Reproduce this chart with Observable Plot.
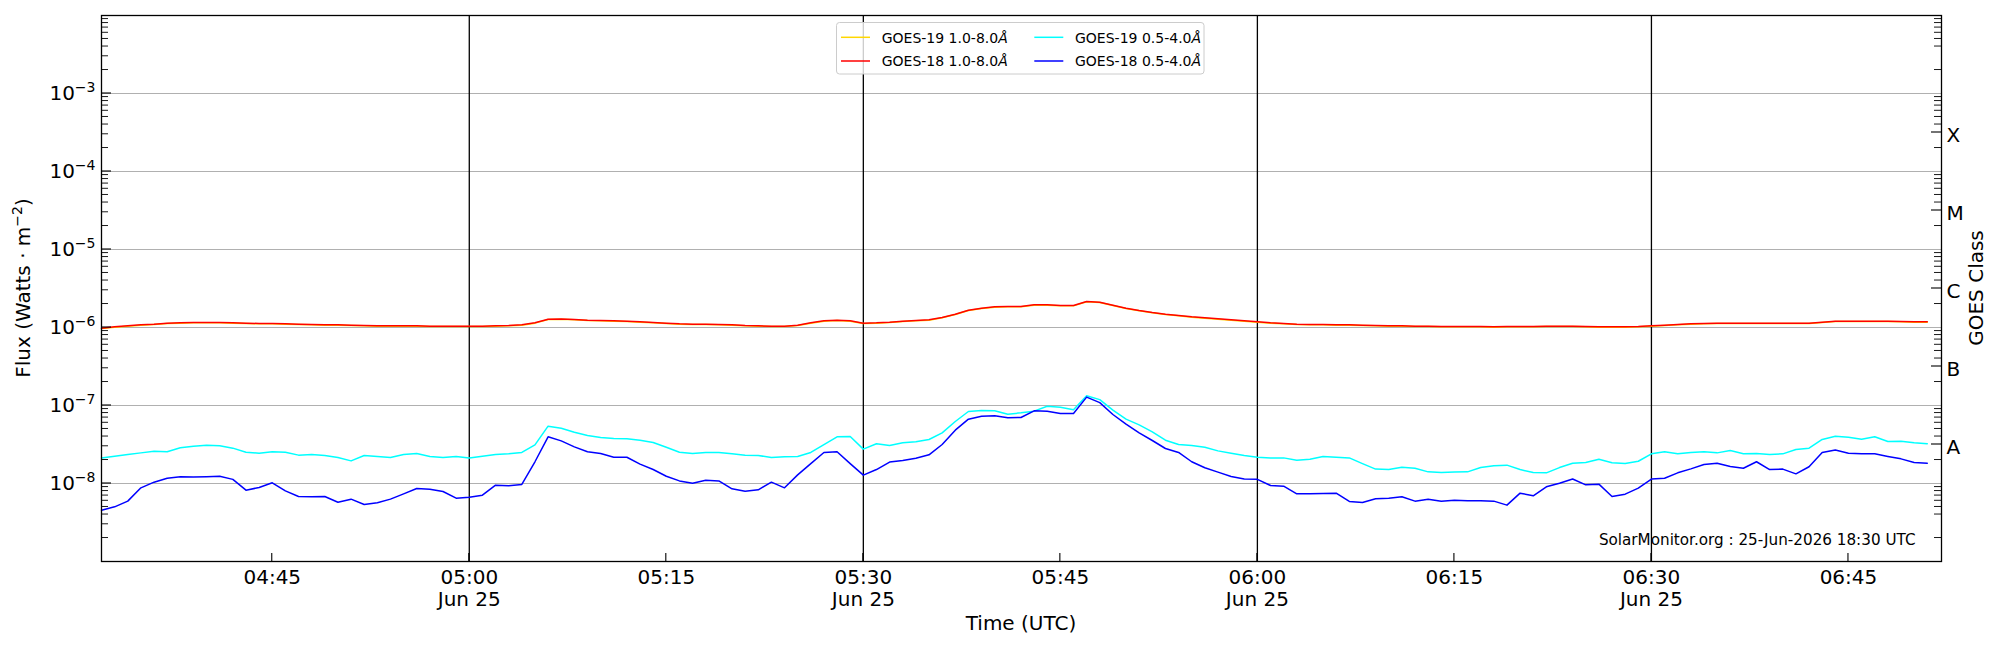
<!DOCTYPE html>
<html>
<head>
<meta charset="utf-8">
<script src="https://cdn.jsdelivr.net/npm/d3@7"></script>
<script src="https://cdn.jsdelivr.net/npm/@observablehq/plot@0.6"></script>
<style>
html, body { margin: 0; padding: 0; background: #fff; }
#chart { width: 2000px; height: 650px; }
</style>
</head>
<body>
<div id="chart"></div>
<script>
// ---- time base (1-minute cadence samples) ----
const startTime = "2026-06-25T04:32:00Z";
const cadenceSeconds = 60;
const xDomain = ["2026-06-25T04:32:00Z", "2026-06-25T06:52:05Z"];

// ---- series values ----
// 1.0-8.0 Å channels, in units of 1e-6 W m^-2
const unitLong = 1e-6;
const goes19Long = [0.970,1.010,1.040,1.071,1.093,1.125,1.137,1.148,1.148,1.148,1.137,1.125,1.114,1.114,1.103,1.093,1.082,1.071,1.071,1.061,1.050,1.040,1.040,1.040,1.040,1.030,1.030,1.030,1.030,1.030,1.040,1.050,1.071,1.137,1.266,1.272,1.254,1.229,1.217,1.206,1.194,1.170,1.148,1.125,1.103,1.093,1.093,1.082,1.071,1.050,1.040,1.030,1.030,1.061,1.137,1.206,1.229,1.206,1.125,1.137,1.159,1.194,1.217,1.242,1.330,1.468,1.651,1.752,1.822,1.840,1.840,1.932,1.932,1.895,1.895,2.134,2.092,1.914,1.752,1.635,1.542,1.468,1.411,1.356,1.317,1.278,1.242,1.206,1.170,1.137,1.114,1.093,1.082,1.082,1.071,1.071,1.061,1.050,1.040,1.040,1.030,1.030,1.020,1.020,1.020,1.020,1.010,1.020,1.020,1.020,1.030,1.030,1.030,1.020,1.010,1.010,1.010,1.020,1.040,1.061,1.082,1.103,1.114,1.125,1.125,1.125,1.125,1.125,1.125,1.125,1.125,1.159,1.194,1.194,1.194,1.194,1.194,1.182,1.170,1.170];
const goes18Long = [0.980,1.020,1.050,1.082,1.103,1.137,1.148,1.159,1.159,1.159,1.148,1.137,1.125,1.125,1.114,1.103,1.093,1.082,1.082,1.071,1.061,1.050,1.050,1.050,1.050,1.040,1.040,1.040,1.040,1.040,1.050,1.061,1.082,1.148,1.279,1.285,1.266,1.242,1.229,1.217,1.206,1.182,1.159,1.137,1.114,1.103,1.103,1.093,1.082,1.061,1.050,1.040,1.040,1.071,1.148,1.217,1.242,1.217,1.137,1.148,1.170,1.206,1.229,1.254,1.343,1.482,1.668,1.769,1.840,1.858,1.858,1.951,1.951,1.914,1.914,2.155,2.113,1.933,1.769,1.651,1.557,1.482,1.425,1.370,1.330,1.291,1.254,1.217,1.182,1.148,1.125,1.103,1.093,1.093,1.082,1.082,1.071,1.061,1.050,1.050,1.040,1.040,1.030,1.030,1.030,1.030,1.020,1.030,1.030,1.030,1.040,1.040,1.040,1.030,1.020,1.020,1.020,1.030,1.050,1.071,1.093,1.114,1.125,1.137,1.137,1.137,1.137,1.137,1.137,1.137,1.137,1.170,1.206,1.206,1.206,1.206,1.206,1.194,1.182,1.182];
// 0.5-4.0 Å channels, in units of 1e-8 W m^-2
const unitShort = 1e-8;
const goes19Short = [2.13,2.24,2.35,2.47,2.60,2.55,2.87,3.01,3.10,3.04,2.84,2.52,2.45,2.55,2.52,2.31,2.35,2.29,2.15,1.95,2.29,2.22,2.15,2.35,2.42,2.22,2.15,2.22,2.13,2.24,2.35,2.40,2.50,3.13,5.43,5.12,4.55,4.12,3.89,3.78,3.74,3.59,3.36,2.92,2.52,2.42,2.50,2.50,2.40,2.31,2.29,2.15,2.20,2.22,2.50,3.16,3.97,4.01,2.76,3.23,3.07,3.32,3.42,3.67,4.46,6.24,8.38,8.63,8.54,7.74,8.05,8.46,9.80,9.52,8.80,13.3,11.9,8.71,6.68,5.65,4.60,3.59,3.16,3.07,2.92,2.62,2.45,2.29,2.17,2.13,2.13,1.99,2.05,2.22,2.17,2.13,1.80,1.53,1.51,1.62,1.57,1.41,1.38,1.40,1.41,1.60,1.69,1.72,1.51,1.38,1.37,1.60,1.82,1.86,2.05,1.84,1.80,1.93,2.40,2.55,2.40,2.50,2.55,2.47,2.65,2.40,2.42,2.35,2.40,2.73,2.84,3.67,4.04,3.93,3.70,3.97,3.45,3.49,3.32,3.23];
const goes18Short = [0.455,0.502,0.594,0.880,1.04,1.17,1.22,1.21,1.22,1.24,1.13,0.821,0.889,1.02,0.805,0.681,0.675,0.681,0.576,0.630,0.538,0.565,0.630,0.737,0.863,0.846,0.790,0.649,0.668,0.709,0.952,0.933,0.971,1.90,3.97,3.52,2.95,2.55,2.42,2.17,2.17,1.77,1.51,1.24,1.08,1.01,1.10,1.08,0.855,0.797,0.829,1.04,0.880,1.29,1.80,2.50,2.55,1.80,1.28,1.51,1.88,1.97,2.11,2.33,3.16,4.83,6.68,7.30,7.37,6.95,7.02,8.54,8.46,7.89,7.89,12.8,10.9,7.67,5.76,4.46,3.56,2.81,2.50,1.90,1.59,1.40,1.23,1.14,1.13,0.943,0.924,0.737,0.737,0.744,0.752,0.588,0.571,0.636,0.649,0.675,0.594,0.630,0.594,0.611,0.600,0.600,0.594,0.528,0.752,0.695,0.906,1.01,1.14,0.961,0.981,0.681,0.730,0.871,1.14,1.17,1.37,1.54,1.75,1.82,1.65,1.57,1.90,1.51,1.53,1.33,1.64,2.50,2.68,2.45,2.40,2.40,2.22,2.07,1.86,1.82];

// ---- series meta ----
const seriesNames = ["GOES-19 1.0-8.0", "GOES-18 1.0-8.0", "GOES-19 0.5-4.0", "GOES-18 0.5-4.0"];
const seriesColors = ["#ffd700", "#ff0000", "#00ffff", "#0000ff"];

// ---- axes ----
const decades = [1e-8, 1e-7, 1e-6, 1e-5, 1e-4, 1e-3];
const decadeExponents = ["−8", "−7", "−6", "−5", "−4", "−3"];
const minorMultipliers = [2, 3, 4, 5, 6, 7, 8, 9];
const minorDecades = [1e-9, 1e-8, 1e-7, 1e-6, 1e-5, 1e-4, 1e-3];
const classLabels = ["A", "B", "C", "M", "X"];
const classPositions = [3.1623e-8, 3.1623e-7, 3.1623e-6, 3.1623e-5, 3.1623e-4];
const xTickTimes = ["2026-06-25T04:45:00Z","2026-06-25T05:00:00Z","2026-06-25T05:15:00Z","2026-06-25T05:30:00Z","2026-06-25T05:45:00Z","2026-06-25T06:00:00Z","2026-06-25T06:15:00Z","2026-06-25T06:30:00Z","2026-06-25T06:45:00Z"];
const xTickLabels = ["04:45","05:00\nJun 25","05:15","05:30\nJun 25","05:45","06:00\nJun 25","06:15","06:30\nJun 25","06:45"];
const halfHourLines = ["2026-06-25T05:00:00Z","2026-06-25T05:30:00Z","2026-06-25T06:00:00Z","2026-06-25T06:30:00Z"];
const annotation = "SolarMonitor.org : 25-Jun-2026 18:30 UTC";

// ---- build tables ----
const t0 = new Date(startTime).getTime();
function toRows(values, unit) {
  return values.map((v, i) => ({t: new Date(t0 + i * cadenceSeconds * 1000), v: v * unit}));
}
const seriesRows = [
  toRows(goes19Long, unitLong),
  toRows(goes18Long, unitLong),
  toRows(goes19Short, unitShort),
  toRows(goes18Short, unitShort)
];
const minorTicks = minorDecades.flatMap(d => minorMultipliers.map(k => k * d));
const rightMinor = minorDecades.flatMap(d => minorMultipliers.filter(k => k !== 3).map(k => k * d));
const xTicks = xTickTimes.map(d => new Date(d));

const chart = Plot.plot({
  width: 2000,
  height: 650,
  marginLeft: 101,
  marginRight: 59,
  marginTop: 15,
  marginBottom: 89,
  style: {fontFamily: "DejaVu Sans", fontSize: "20px", background: "white", color: "black", overflow: "visible"},
  x: {type: "utc", domain: xDomain.map(d => new Date(d))},
  y: {type: "log", domain: [1e-9, 1e-2]},
  marks: [
    Plot.ruleY(decades, {stroke: "#b0b0b0", strokeWidth: 1.1}),
    Plot.ruleX(halfHourLines.map(d => new Date(d)), {stroke: "black", strokeWidth: 1.3}),
    ...seriesRows.map((rows, i) => Plot.line(rows, {x: "t", y: "v", stroke: seriesColors[i], strokeWidth: 1.5})),
    Plot.frame({stroke: "black", strokeWidth: 1.3}),
    Plot.axisY(decades, {anchor: "left", tickSize: 0, tickPadding: 6, fontSize: 20, label: null,
      tickFormat: d => "10^" + decadeExponents[decades.indexOf(d)]}),
    Plot.text(classPositions, {y: d => d, text: d => classLabels[classPositions.indexOf(d)],
      frameAnchor: "right", dx: 5, dy: 3, textAnchor: "start", fontSize: 20}),
    Plot.axisX(xTicks, {anchor: "bottom", tickSize: 0, tickPadding: 7, fontSize: 20, lineHeight: 1.1, label: null,
      tickFormat: d => xTickLabels[xTicks.findIndex(t => +t === +d)]}),
    Plot.text([annotation], {text: d => d, frameAnchor: "bottom-right", dx: -26, dy: -16.5, textAnchor: "end", fontSize: 15.2})
  ]
});

document.getElementById("chart").appendChild(chart);
const svg = d3.select(chart);
const xs = chart.scale("x"), ys = chart.scale("y");
const [xLeft, xRight] = xs.range;
const [yBottom, yTop] = ys.range;

// superscripts for 10^n tick labels
svg.selectAll("text").each(function () {
  const m = /^10\^(.+)$/.exec(this.textContent);
  if (m) {
    const t = d3.select(this);
    t.text("10");
    t.append("tspan").attr("dy", "-8.3").attr("font-size", "14px").text(m[1]);
  }
});

// inward tick marks (positions from Plot's scales)
const tg = svg.append("g").attr("stroke", "black").attr("fill", "none");
function hTick(v, x0, len, w) {
  const y = ys.apply(v);
  tg.append("line").attr("x1", x0).attr("x2", x0 + len).attr("y1", y).attr("y2", y).attr("stroke-width", w);
}
decades.forEach(v => hTick(v, xLeft, 10, 1.1));
minorTicks.forEach(v => hTick(v, xLeft, 7, 0.9));
rightMinor.forEach(v => hTick(v, xRight, -7, 0.9));
classPositions.forEach(v => hTick(v, xRight, -10, 1.1));
xTicks.forEach(d => {
  const x = xs.apply(d);
  tg.append("line").attr("x1", x).attr("x2", x).attr("y1", yBottom).attr("y2", yBottom - 8).attr("stroke-width", 1.1);
});

// axis titles
const fluxLabel = svg.append("text")
  .attr("transform", "translate(30,288) rotate(-90)")
  .attr("text-anchor", "middle")
  .attr("font-family", "DejaVu Sans").attr("font-size", "20px").attr("fill", "black");
fluxLabel.append("tspan").text("Flux (Watts · m");
fluxLabel.append("tspan").attr("dy", "-8.3").attr("font-size", "14px").text("−2");
fluxLabel.append("tspan").attr("dy", "8.3").text(")");

svg.append("text")
  .attr("transform", "translate(1983,288) rotate(-90)")
  .attr("text-anchor", "middle")
  .attr("font-family", "DejaVu Sans").attr("font-size", "20px").attr("fill", "black")
  .text("GOES Class");

svg.append("text")
  .attr("x", (xLeft + xRight) / 2).attr("y", 630)
  .attr("text-anchor", "middle")
  .attr("font-family", "DejaVu Sans").attr("font-size", "20px").attr("fill", "black")
  .text("Time (UTC)");

// legend (two columns, matplotlib-style)
const lg = svg.append("g").attr("font-family", "DejaVu Sans").attr("font-size", "14px").attr("text-anchor", "start");
lg.append("rect")
  .attr("x", 836.5).attr("y", 22.5).attr("width", 367.5).attr("height", 51.5)
  .attr("rx", 3).attr("fill", "white").attr("fill-opacity", 0.8)
  .attr("stroke", "#cccccc").attr("stroke-width", 1);
const colX = [841, 1034.3];
const rowY = [37.3, 61.0];
seriesNames.forEach((name, i) => {
  const c = Math.floor(i / 2), r = i % 2;
  lg.append("line")
    .attr("x1", colX[c]).attr("x2", colX[c] + 29)
    .attr("y1", rowY[r]).attr("y2", rowY[r])
    .attr("stroke", seriesColors[i]).attr("stroke-width", 1.5);
  const tx = lg.append("text").attr("x", colX[c] + 40.7).attr("y", rowY[r] + 5.2)
    .attr("fill", "black").attr("text-anchor", "start").attr("font-size", "14px");
  tx.append("tspan").text(name);
  tx.append("tspan").attr("font-style", "italic").text("Å");
});
</script>
</body>
</html>
